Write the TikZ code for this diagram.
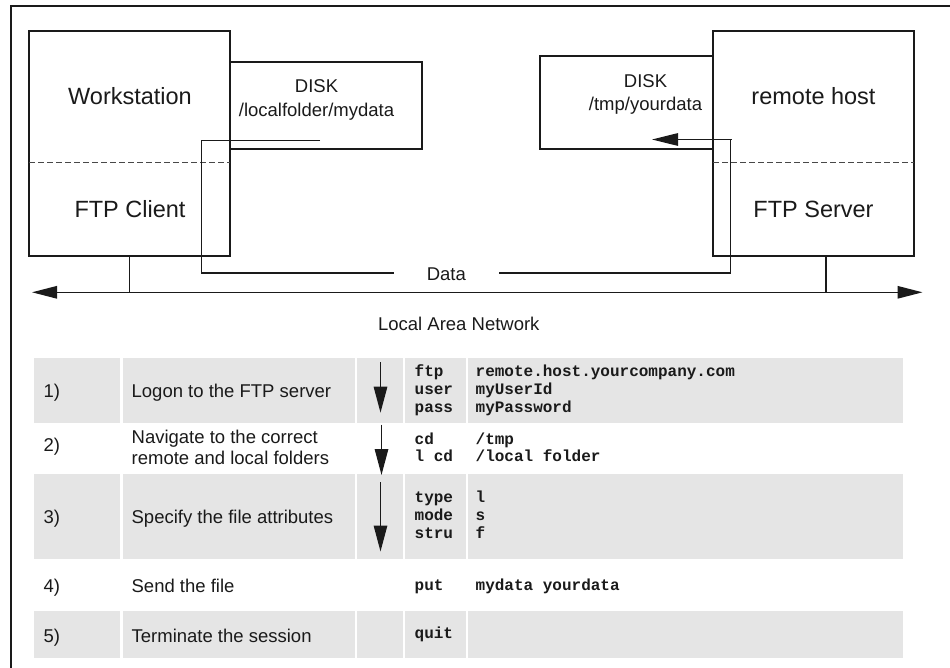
\documentclass[tikz,border=0pt]{standalone}
\usepackage{fontspec}
\setmainfont{Liberation Sans}
\setmonofont{Liberation Mono}
\usetikzlibrary{arrows.meta}
\definecolor{cellgray}{HTML}{E5E5E5}
\definecolor{ink}{HTML}{1A1A1A}
\begin{document}
\begin{tikzpicture}[x=1pt,y=-1pt, line width=1.3pt, draw=ink,
  box/.style={draw=ink, anchor=north west, inner sep=0pt, outer sep=0pt},
  big/.style={font=\fontsize{23.5}{26}\selectfont, inner sep=0pt, anchor=base, text=ink},
  small/.style={font=\fontsize{18.5}{21}\selectfont, inner sep=0pt, anchor=base, text=ink},
  lefttxt/.style={font=\fontsize{18.5}{21}\selectfont, inner sep=0pt, anchor=base west, text=ink},
  code/.style={font=\fontsize{16}{18.3}\selectfont\ttfamily\bfseries, inner sep=0pt, anchor=base west, text=ink},
  cell/.style={fill=cellgray, draw=none, anchor=north west, inner sep=0pt, outer sep=0pt},
  sep/.style={dash pattern=on 6pt off 3pt, line width=0.9pt, draw=ink!80},
  bigtip/.style={-{Triangle[length=26pt,width=12.5pt]}},
  rowtip/.style={-{Triangle[length=26pt,width=13.5pt]}, line width=1.4pt}
]
\useasboundingbox (0,0) rectangle (950,668);
% frame
\draw (11,668) -- (11,6) -- (950,6);

% hosts and disks
\node[box, minimum width=201pt, minimum height=225pt] (ws) at (29,31) {};
\node[box, minimum width=192pt, minimum height=87pt] (diskL) at (230,62) {};
\node[box, minimum width=201pt, minimum height=225pt] (rh) at (713,31) {};
\node[box, minimum width=173pt, minimum height=93pt] (diskR) at (540,56) {};
\draw[sep] (29,162) -- (230,162);
\draw[sep] (713,162) -- (914,162);

\node[big] (wsT) at (130,105) {Workstation};
\node[big] (clT) at (130,217.5) {FTP Client};
\node[big] (rhT) at (813.5,104.3) {remote host};
\node[big] (svT) at (813.5,217.5) {FTP Server};
\node[small] (dLa) at (316.5,92.3) {DISK};
\node[small] (dLb) at (316.5,116.7) {/localfolder/mydata};
\node[small] (dRa) at (645.5,87.3) {DISK};
\node[small] (dRb) at (645.5,111) {/tmp/yourdata};

% data path
\node[small] (data) at (446.3,280.8) {Data};
\coordinate (d0) at (320,140.5);
\coordinate (d1) at (394,273);
\coordinate (d2) at (499,273);
\coordinate (d3) at (730.5,139.5);
\coordinate (d4) at (652,139.5);
\draw (d0) -- (201.5,140.5) |- (d1);
\draw[bigtip] (d2) -| (d3) -- (d4);
\draw (d3) -- ++(1.5,0);

% LAN
\coordinate (lanL) at (32,292.3);
\coordinate (lanR) at (922.5,292.3);
\draw[{Triangle[length=25pt,width=12.5pt]}-{Triangle[length=25pt,width=12.5pt]}] (lanL) -- (lanR);
\draw (ws.south) -- (ws.south |- lanL);
\coordinate (rhd) at (826,256);
\draw (rhd) -- (rhd |- lanR);
\node[small] (lan) at (458.8,330) {Local Area Network};

% table cells
\foreach \y/\h/\n in {358.3/64.4/a, 474/85.3/c, 611/46.7/e}{
  \node[cell, minimum width=86pt, minimum height=\h pt] (c1\n) at (34,\y) {};
  \node[cell, minimum width=232pt, minimum height=\h pt] (c2\n) at (123,\y) {};
  \node[cell, minimum width=46pt, minimum height=\h pt] (c3\n) at (357,\y) {};
  \node[cell, minimum width=61pt, minimum height=\h pt] (c4\n) at (405,\y) {};
  \node[cell, minimum width=435pt, minimum height=\h pt] (c5\n) at (468,\y) {};
}

% row arrows
\coordinate (a1s) at (380.5,362.3); \coordinate (a1e) at (380.5,412.7);
\coordinate (a2s) at (381.5,424.7); \coordinate (a2e) at (381.5,475);
\coordinate (a3s) at (380.5,482.3); \coordinate (a3e) at (380.5,551.5);
\draw[rowtip] (a1s) -- (a1e);
\draw[rowtip] (a2s) -- (a2e);
\draw[rowtip] (a3s) -- (a3e);

% row texts
\node[lefttxt] (n1) at (43,397) {1)};
\node[lefttxt] (t1) at (131,397) {Logon to the FTP server};
\node[lefttxt] (n2) at (43,451) {2)};
\node[lefttxt] (t2a) at (131,443.3) {Navigate to the correct};
\node[lefttxt] (t2b) at (131,464.3) {remote and local folders};
\node[lefttxt] (n3) at (43,523.5) {3)};
\node[lefttxt] (t3) at (131,523.5) {Specify the file attributes};
\node[lefttxt] (n4) at (43,592.5) {4)};
\node[lefttxt] (t4) at (131,592.5) {Send the file};
\node[lefttxt] (n5) at (43,642.5) {5)};
\node[lefttxt] (t5) at (131,642.5) {Terminate the session};

% code
\node[code] (k1a) at (414,376) {ftp};
\node[code] (v1a) at (475,376) {remote.host.yourcompany.com};
\node[code] (k1b) at (414,394.5) {user};
\node[code] (v1b) at (475,394.5) {myUserId};
\node[code] (k1c) at (414,412.7) {pass};
\node[code] (v1c) at (475,412.7) {myPassword};
\node[code] (k2a) at (414,444) {cd};
\node[code] (v2a) at (475,444) {/tmp};
\node[code] (k2b) at (414,461.5) {l cd};
\node[code] (v2b) at (475,461.5) {/local folder};
\node[code] (k3a) at (414,502.7) {type};
\node[code] (v3a) at (475,502.7) {l};
\node[code] (k3b) at (414,520.7) {mode};
\node[code] (v3b) at (475,520.7) {s};
\node[code] (k3c) at (414,538.5) {stru};
\node[code] (v3c) at (475,538.5) {f};
\node[code] (k4) at (414,590) {put};
\node[code] (v4) at (475,590) {mydata yourdata};
\node[code] (k5) at (414,638.3) {quit};
\end{tikzpicture}
\end{document}
